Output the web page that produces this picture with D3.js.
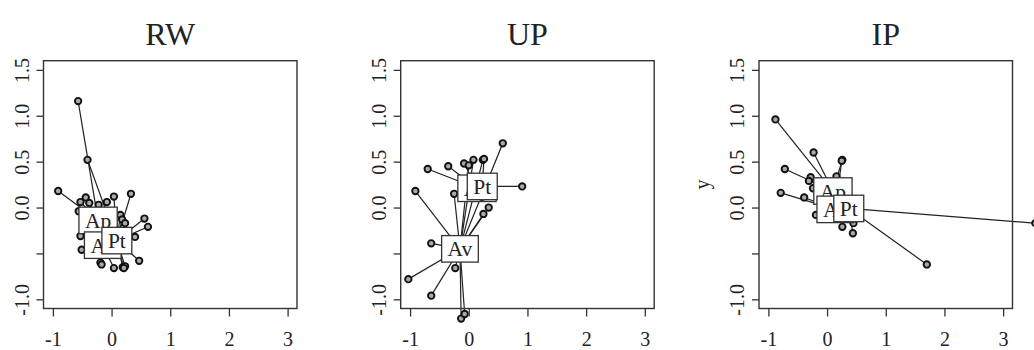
<!DOCTYPE html>
<html>
<head>
<meta charset="utf-8">
<script src="https://cdn.jsdelivr.net/npm/d3@7/dist/d3.min.js"></script>
<style>
  html, body { margin: 0; padding: 0; background: #fff; }
  svg { display: block; }
  text { font-family: "Liberation Serif", "Times New Roman", serif; fill: #222; }
</style>
</head>
<body>
<svg id="chart" width="1034" height="350"></svg>
<script>
// ---------- data ----------
const panelTitles = ["RW", "UP", "IP"];
const groupNames = ["Ap", "Av", "Pt"];
const xTicks = [-1, 0, 1, 2, 3];
const xTickLabels = ["-1", "0", "1", "2", "3"];
const yTicks = [-1.0, -0.5, 0.0, 0.5, 1.0, 1.5];
const yTickLabels = ["-1.0", "", "0.0", "0.5", "1.0", "1.5"];
const yAxisTitles = ["", "", "y"];

// RW
const rwX = [-0.57, -0.41, -0.91, -0.44, -0.53, -0.38, -0.22, -0.08, 0.04, 0.33, -0.56, 0.15, 0.18, 0.56, 0.62, 0.23, -0.53, 0.40, -0.51, -0.19, -0.17, 0.47, 0.04, 0.19, 0.23, 0.21];
const rwY = [1.16, 0.52, 0.18, 0.11, 0.06, 0.05, 0.03, 0.06, 0.12, 0.15, -0.04, -0.08, -0.13, -0.12, -0.21, -0.17, -0.31, -0.32, -0.46, -0.60, -0.62, -0.58, -0.66, -0.65, -0.64, -0.66];
const rwG = ["Ap","Pt","Ap","Ap","Ap","Ap","Ap","Ap","Pt","Pt","Ap","Pt","Pt","Pt","Pt","Pt","Av","Pt","Av","Av","Av","Pt","Av","Pt","Pt","Pt"];
const rwCentX = [-0.23, -0.15, 0.09];
const rwCentY = [-0.14, -0.41, -0.36];

// UP
const upX = [0.58, 0.91, -0.70, -0.35, -0.08, 0.00, 0.08, 0.24, 0.26, -0.91, -0.25, 0.34, 0.25, -0.64, -1.03, -0.23, -0.64, -0.13, -0.07];
const upY = [0.70, 0.23, 0.42, 0.45, 0.48, 0.46, 0.52, 0.52, 0.53, 0.18, 0.15, 0.00, -0.07, -0.39, -0.78, -0.66, -0.96, -1.21, -1.16];
const upG = ["Av","Pt","Ap","Ap","Ap","Av","Av","Av","Pt","Av","Av","Av","Av","Av","Av","Av","Av","Av","Av"];
const upCentX = [0.14, -0.15, 0.23];
const upCentY = [0.21, -0.45, 0.23];

// IP
const ipX = [-0.88, -0.23, 0.26, 0.25, -0.72, -0.79, -0.39, -0.28, -0.31, -0.24, 0.16, 3.55, 1.70, 0.26, 0.44, 0.45, -0.19];
const ipY = [0.96, 0.60, 0.52, 0.51, 0.42, 0.16, 0.11, 0.33, 0.29, 0.21, 0.34, -0.17, -0.62, -0.21, -0.28, -0.17, -0.08];
const ipG = ["Ap","Ap","Ap","Av","Ap","Av","Av","Ap","Ap","Ap","Ap","Pt","Pt","Pt","Pt","Pt","Av"];
const ipCentX = [0.10, 0.14, 0.37];
const ipCentY = [0.18, -0.02, -0.01];

const panels = [
  {x: rwX, y: rwY, g: rwG, cx: rwCentX, cy: rwCentY},
  {x: upX, y: upY, g: upG, cx: upCentX, cy: upCentY},
  {x: ipX, y: ipY, g: ipG, cx: ipCentX, cy: ipCentY}
];

// ---------- layout ----------
const panelLeft = [43.5, 400.7, 759];
const plotW = 253.5;
const plotTop = 60.7, plotBottom = 308.5;
const ink = "#222";

const svg = d3.select("#chart");

panels.forEach((p, pi) => {
  const gP = svg.append("g").attr("transform", `translate(${panelLeft[pi]},${plotTop})`);
  const h = plotBottom - plotTop;
  const x = d3.scaleLinear().domain([-1.16, 3.16]).range([0, plotW]);
  const y = d3.scaleLinear().domain([-1.1, 1.6]).range([h, 0]);

  // spider lines
  p.x.forEach((xv, i) => {
    const gi = groupNames.indexOf(p.g[i]);
    gP.append("line")
      .attr("x1", x(xv)).attr("y1", y(p.y[i]))
      .attr("x2", x(p.cx[gi])).attr("y2", y(p.cy[gi]))
      .attr("stroke", ink).attr("stroke-width", 1.2);
  });
  // points
  p.x.forEach((xv, i) => {
    gP.append("circle")
      .attr("cx", x(xv)).attr("cy", y(p.y[i])).attr("r", 3.2)
      .attr("fill", "#aaa").attr("stroke", "#111").attr("stroke-width", 1.9);
  });
  // labels in boxes
  groupNames.forEach((name, gi) => {
    const cxp = x(p.cx[gi]), cyp = y(p.cy[gi]);
    const lg = gP.append("g");
    const rect = lg.append("rect");
    const t = lg.append("text")
      .attr("x", cxp).attr("y", cyp + 7.5)
      .attr("text-anchor", "middle")
      .style("font-size", "21.5px")
      .text(name);
    const w = t.node().getComputedTextLength() + 12;
    const bh = 26.5;
    rect.attr("x", cxp - w / 2).attr("y", cyp - bh / 2)
      .attr("width", w).attr("height", bh)
      .attr("fill", "#fff").attr("stroke", "#333").attr("stroke-width", 1.3);
  });

  // frame
  gP.append("rect").attr("x", 0).attr("y", 0).attr("width", plotW).attr("height", h)
    .attr("fill", "none").attr("stroke", "#333").attr("stroke-width", 1.4);

  // x axis
  const xa = gP.append("g").attr("transform", `translate(0,${h})`)
    .call(d3.axisBottom(x).tickValues(xTicks).tickSize(8).tickSizeOuter(0)
      .tickFormat((d, i) => xTickLabels[i]));
  xa.select(".domain").remove();
  xa.selectAll(".tick line").attr("stroke", "#333").attr("stroke-width", 1.3);
  xa.selectAll(".tick text").attr("y", 37).attr("dy", null)
    .style("font-size", "20px").attr("fill", ink).style("font-family", "Liberation Serif");

  // y axis
  const ya = gP.append("g")
    .call(d3.axisLeft(y).tickValues(yTicks).tickSize(7).tickSizeOuter(0)
      .tickFormat((d, i) => yTickLabels[i]));
  ya.select(".domain").remove();
  ya.selectAll(".tick line").attr("stroke", "#333").attr("stroke-width", 1.3);
  ya.selectAll(".tick text")
    .attr("x", null).attr("dy", null)
    .attr("transform", "translate(-15,0) rotate(-90)")
    .attr("text-anchor", "middle")
    .style("font-size", "20px").attr("fill", ink).style("font-family", "Liberation Serif");

  // y axis title
  if (yAxisTitles[pi]) {
    gP.append("text")
      .attr("transform", `translate(-50,${h / 2}) rotate(-90)`)
      .attr("text-anchor", "middle")
      .style("font-size", "20px")
      .text(yAxisTitles[pi]);
  }

  // title
  gP.append("text")
    .attr("x", plotW / 2).attr("y", -16)
    .attr("text-anchor", "middle")
    .style("font-size", "32px")
    .text(panelTitles[pi]);
});
</script>
</body>
</html>
